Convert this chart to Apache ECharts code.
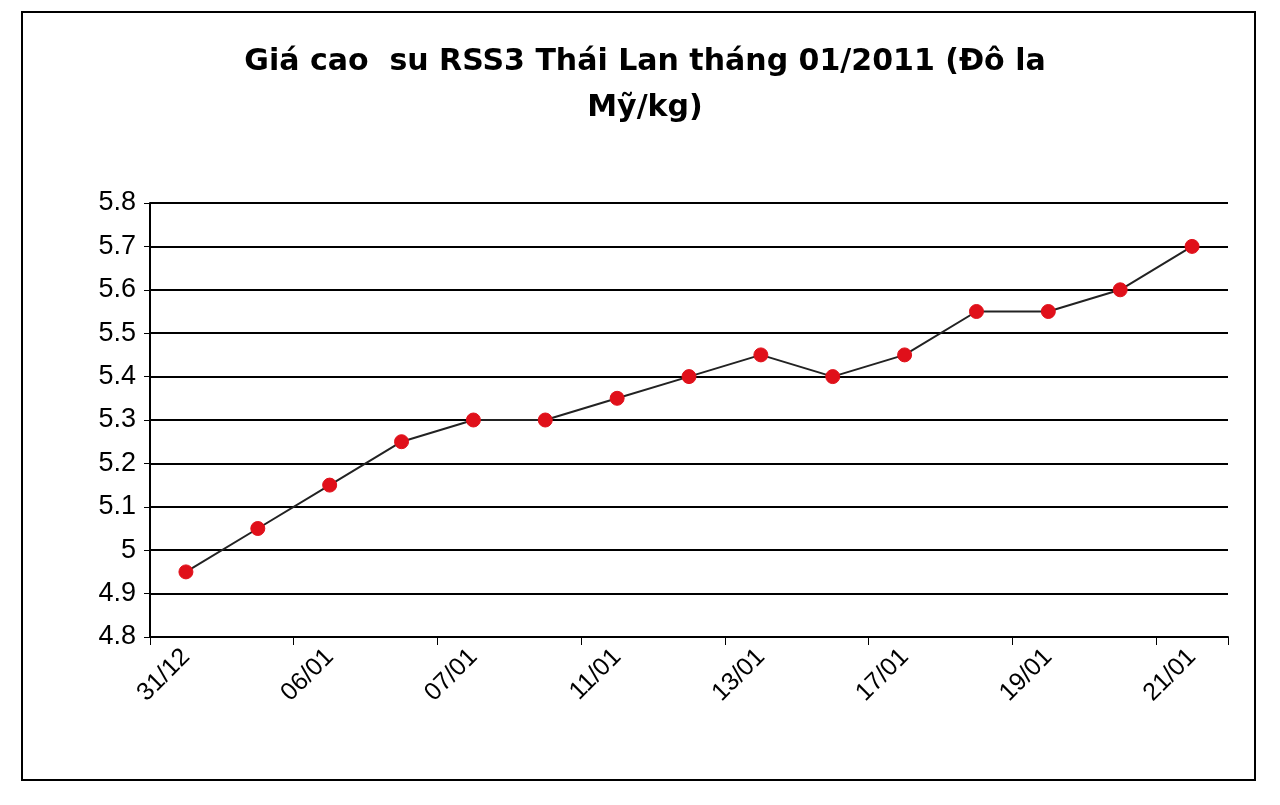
<!DOCTYPE html>
<html><head><meta charset="utf-8">
<script src="https://cdn.jsdelivr.net/npm/echarts@6/dist/echarts.min.js"></script>
<style>html,body{margin:0;padding:0;background:#fff}#c{width:1280px;height:805px}</style>
</head><body><div id="c"></div>
<script>
const categories = ["31/12","","06/01","","07/01","","11/01","","13/01","","17/01","","19/01","","21/01"];
const prices = [4.95,5.05,5.15,5.25,5.30,5.30,5.35,5.40,5.45,5.40,5.45,5.55,5.55,5.60,5.70];
const titleText = "Giá cao  su RSS3 Thái Lan tháng 01/2011 (Đô la\nMỹ/kg)";
const chart = echarts.init(document.getElementById('c'));
chart.setOption({
  animation:false,
  graphic:[{type:'rect',shape:{x:22,y:12,width:1233,height:768},style:{fill:'none',stroke:'#000',lineWidth:2}}],
  title:{text:titleText,left:640,top:34,textAlign:'center',textStyle:{fontFamily:'DejaVu Sans',fontWeight:'bold',fontSize:30,lineHeight:46,color:'#000'}},
  grid:{left:150,right:52,top:203,bottom:168},
  xAxis:{type:'category',data:categories,boundaryGap:true,
    axisLine:{lineStyle:{color:'#000',width:2}},
    axisTick:{show:true,interval:1,length:8,lineStyle:{color:'#000'}},
    axisLabel:{interval:0,rotate:45,fontFamily:'Liberation Sans',fontSize:25,color:'#000',margin:16}},
  yAxis:{type:'value',min:4.8,max:5.8,interval:0.1,
    axisLine:{show:true,lineStyle:{color:'#000',width:2}},
    axisTick:{show:true,length:6,lineStyle:{color:'#000'}},
    splitLine:{lineStyle:{color:'#000',width:2}},
    axisLabel:{fontFamily:'Liberation Sans',fontSize:27,color:'#000',margin:14,
      formatter:v=>(Math.round(v*10)/10).toString()}},
  series:[{type:'line',data:prices,symbol:'circle',symbolSize:14,
    lineStyle:{color:'#222',width:2},itemStyle:{color:'#e0101a',borderColor:'#e0101a'}}]
});
</script></body></html>
